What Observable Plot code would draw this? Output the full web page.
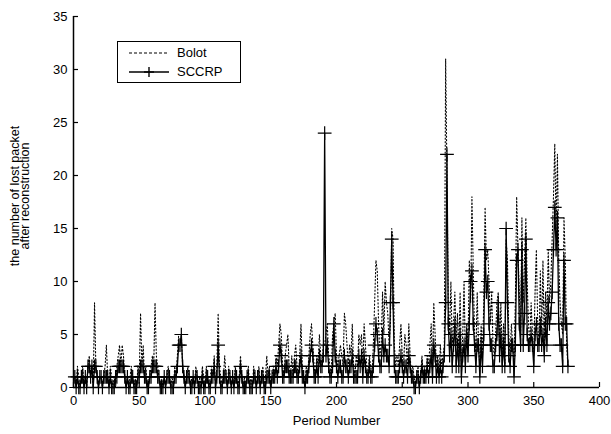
<!DOCTYPE html>
<html>
<head>
<meta charset="utf-8">
<script src="https://cdn.jsdelivr.net/npm/d3@7"></script>
<script src="https://cdn.jsdelivr.net/npm/@observablehq/plot@0.6"></script>
<style>
  body { margin: 0; background: #fff; }
  #wrap { position: relative; width: 611px; height: 434px; font-family: "Liberation Sans", Arial, sans-serif; }
  #legend { position: absolute; left: 117px; top: 41px; width: 124px; height: 42px; border: 1.5px solid #000; box-sizing: border-box; background: #fff; font-size: 13px; }
  #legend .row { position: absolute; left: 0; height: 16px; }
  #legend span { position: absolute; left: 59px; top: 0; line-height: 16px; }
</style>
</head>
<body>
<div id="wrap"></div>
<script>
const seriesNames = ["Bolot", "SCCRP"];
const xTicks = [0, 50, 100, 150, 200, 250, 300, 350, 400];
const yTicks = [0, 5, 10, 15, 20, 25, 30, 35];

const bolot = [
  1,0,2,1,0,1,2,0,1,0,
  2,3,1,2,0,8,2,1,0,1,
  1,0,1,2,4,1,0,2,1,0,
  1,0,2,3,4,2,4,3,1,0,
  1,0,1,2,1,0,1,0,2,1,
  7,2,4,1,2,0,1,1,2,3,
  2,8,3,2,1,0,1,0,1,0,
  1,2,1,0,1,0,2,1,3,5,
  5,5,2,1,0,1,2,1,0,1,
  1,0,2,1,0,1,0,2,1,0,
  2,1,0,1,2,1,3,0,2,7,
  2,1,0,1,3,1,0,2,1,0,
  1,0,2,1,0,1,3,1,0,1,
  0,1,2,0,1,0,2,1,0,1,
  2,0,1,2,0,1,3,1,2,0,
  1,2,1,3,2,4,6,5,2,1,
  3,4,5,2,1,3,1,3,4,2,
  1,3,6,2,1,0,2,1,3,5,
  6,4,2,1,3,2,5,3,2,4,
  4,5,6,3,2,1,5,6,7,3,
  2,3,4,3,2,7,6,4,2,4,
  3,6,2,1,3,2,5,4,5,2,
  6,4,2,1,3,2,1,4,8,12,
  11,6,3,4,9,5,10,8,7,4,
  6,15,14,4,2,3,2,4,6,3,
  2,5,4,2,6,3,1,2,1,0,
  1,2,0,1,3,1,2,1,3,2,
  4,6,2,8,5,2,3,1,4,2,
  3,4,31,20,8,5,10,4,6,9,
  4,7,3,9,2,5,10,3,6,4,
  12,8,18,11,5,3,9,4,2,6,
  3,8,17,12,13,10,6,9,4,3,
  5,8,9,4,8,3,6,2,14,12,
  5,3,6,4,2,8,18,13,9,5,
  16,8,12,16,10,6,4,8,5,3,
  9,13,6,4,11,5,12,4,9,6,
  13,8,10,14,18,23,15,22,12,8,
  6,5,16,12,4,2
];

const sccrp = [
  1,0,1,0,0,1,1,0,1,0,
  2,2,1,2,0,2,2,1,0,1,
  1,0,1,1,1,1,0,1,0,0,
  0,1,1,2,2,2,2,2,1,0,
  1,0,0,1,1,0,0,0,1,1,
  2,2,2,1,1,0,0,1,1,2,
  2,2,2,1,1,0,0,0,1,0,
  1,1,1,0,0,0,1,1,2,4,
  4,5,2,1,0,1,1,1,0,0,
  1,0,1,1,0,0,0,1,0,0,
  1,1,0,0,1,1,2,0,1,4,
  1,0,0,1,1,1,0,1,1,0,
  1,0,1,1,0,0,2,1,0,0,
  0,1,1,0,0,0,1,1,0,1,
  1,0,1,1,0,0,1,1,1,0,
  1,1,1,2,1,2,4,3,1,1,
  2,2,2,1,1,1,1,2,2,1,
  1,2,3,1,1,0,1,1,2,3,
  4,3,1,1,2,1,3,2,2,3,
  24,3,4,2,1,1,2,6,3,2,
  1,2,2,1,1,3,2,2,1,2,
  2,3,1,1,1,1,3,2,3,1,
  3,2,1,1,2,1,1,2,4,6,
  5,3,2,2,5,3,4,3,3,2,
  8,14,8,2,1,1,1,2,3,2,
  1,2,2,1,3,2,1,1,0,0,
  1,1,0,1,2,1,1,1,2,1,
  2,3,1,4,3,1,2,1,2,1,
  2,3,8,22,6,3,5,2,4,6,
  2,4,2,5,1,3,4,2,5,3,
  6,10,11,6,4,2,4,4,1,4,
  2,5,13,9,10,6,4,4,2,2,
  4,5,8,3,5,2,4,2,15,8,
  3,2,4,4,1,4,12,13,6,4,
  13,4,7,14,5,4,4,5,4,2,
  5,6,4,4,6,4,5,3,6,4,
  8,6,7,9,13,17,13,16,6,4,
  4,2,12,6,6,2
];

const bolotData = bolot.map((v, i) => ({period: i + 1, value: v}));
const sccrpData = sccrp.map((v, i) => ({period: i + 1, value: v}));

const font = "Liberation Sans, Arial, sans-serif";

const chart = Plot.plot({
  width: 611,
  height: 434,
  marginLeft: 73,
  marginRight: 12,
  marginTop: 16,
  marginBottom: 47,
  style: {fontFamily: font, fontSize: "13px", background: "#fff", color: "#000", overflow: "visible"},
  x: {domain: [0, 400]},
  y: {domain: [0, 35]},
  marks: [
    Plot.axisX({ticks: xTicks, tickSize: -5, tickPadding: 13, label: null, fontSize: 13, strokeWidth: 1.2}),
    Plot.axisY({ticks: yTicks, tickSize: -5, tickPadding: 11, label: null, fontSize: 13, strokeWidth: 1.2}),
    Plot.ruleY([0], {stroke: "#000", strokeWidth: 1.5}),
    Plot.ruleX([0], {stroke: "#000", strokeWidth: 1.5}),
    Plot.line(bolotData, {x: "period", y: "value", stroke: "#000", strokeWidth: 1.1, strokeDasharray: "1.3,2.2"}),
    Plot.line(sccrpData, {x: "period", y: "value", stroke: "#000", strokeWidth: 1.3}),
    Plot.dot(sccrpData, {x: "period", y: "value", symbol: "plus", r: 4.5, stroke: "#000", strokeWidth: 1.2}),
    Plot.text(["Period Number"], {frameAnchor: "bottom", dy: 37, fontSize: 13, fill: "#000"}),
    Plot.text(["the number of lost packet\nafter reconstruction"], {frameAnchor: "left", textAnchor: "middle", dx: -53, dy: -6, rotate: -90, fontSize: 12.5, lineHeight: 0.85, fill: "#000"})
  ]
});

const wrap = document.getElementById("wrap");
wrap.appendChild(chart);

const legend = document.createElement("div");
legend.id = "legend";
legend.innerHTML = `
  <div class="row" style="top:3px;width:120px">
    <svg width="55" height="16" style="position:absolute;left:9px;top:0"><line x1="2" y1="8" x2="42" y2="8" stroke="#000" stroke-width="1.2" stroke-dasharray="3,2"/></svg>
    <span>${seriesNames[0]}</span>
  </div>
  <div class="row" style="top:22px;width:120px">
    <svg width="55" height="16" style="position:absolute;left:9px;top:0"><line x1="2" y1="8" x2="42" y2="8" stroke="#000" stroke-width="1.4"/><line x1="22" y1="3" x2="22" y2="13" stroke="#000" stroke-width="1.4"/><line x1="17" y1="8" x2="27" y2="8" stroke="#000" stroke-width="1.4"/></svg>
    <span>${seriesNames[1]}</span>
  </div>`;
wrap.appendChild(legend);
</script>
</body>
</html>
